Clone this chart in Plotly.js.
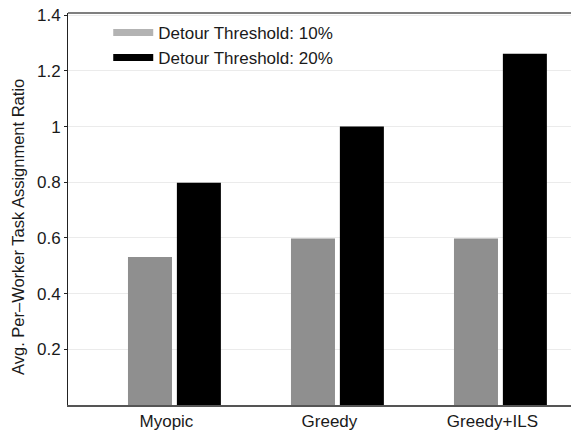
<!DOCTYPE html>
<html>
<head>
<meta charset="utf-8">
<script src="https://cdn.plot.ly/plotly-3.0.1.min.js"></script>
<style>html,body{margin:0;padding:0;background:#fff;}#chart{width:571px;height:430px;}</style>
</head>
<body>
<div id="chart"></div>
<script>
var categories = ["Myopic", "Greedy", "Greedy+ILS"];
var threshold10 = [0.532, 0.598, 0.598];
var threshold20 = [0.798, 1.0, 1.262];
var seriesNames = ["Detour Threshold: 10%", "Detour Threshold: 20%"];
var yTickVals = [0.2, 0.4, 0.6, 0.8, 1.0, 1.2, 1.4];
var yTickText = ["0.2", "0.4", "0.6", "0.8", "1", "1.2", "1.4"];
var yTitle = "Avg. Per–Worker Task Assignment Ratio";

var font = {family: "Liberation Sans, Arial, sans-serif", size: 17, color: "#1a1a1a"};
var titleFont = {family: "Liberation Sans, Arial, sans-serif", size: 16.5, color: "#1a1a1a"};

var traces = [
  {type: "bar", x: categories, y: threshold10, marker: {color: "#8f8f8f"}, showlegend: false, hoverinfo: "y"},
  {type: "bar", x: categories, y: threshold20, marker: {color: "#000000"}, showlegend: false, hoverinfo: "y"},
  {type: "scatter", mode: "lines", x: [null], y: [null], name: seriesNames[0], legendgroup: "a",
   line: {color: "#b3b3b3", width: 7}},
  {type: "scatter", mode: "lines", x: [null], y: [null], name: seriesNames[1], legendgroup: "b",
   line: {color: "#000000", width: 7}}
];

var layout = {
  width: 571, height: 430,
  margin: {l: 68, r: 0, t: 13, b: 25, pad: 0},
  paper_bgcolor: "#fff", plot_bgcolor: "#fff",
  font: font,
  barmode: "group",
  bargap: 0.4,
  bargroupgap: 0.1,
  showlegend: true,
  legend: {x: 0.08, y: 0.995, xanchor: "left", yanchor: "top", bgcolor: "rgba(0,0,0,0)",
           font: font, tracegroupgap: 3, itemwidth: 40, traceorder: "normal"},
  xaxis: {type: "category", range: [-0.653, 2.433], showgrid: false, zeroline: false,
          showline: true, linecolor: "#555", linewidth: 1.5, ticks: "", tickfont: font,
          ticklabelshift: -8, fixedrange: true},
  yaxis: {range: [0, 1.408], tickvals: yTickVals, ticktext: yTickText, showgrid: true, gridcolor: "#ebebeb",
          gridwidth: 1, zeroline: false, showline: true, linecolor: "#222", linewidth: 1,
          ticks: "outside", ticklen: 3, tickwidth: 1, tickcolor: "#222", tickfont: font, automargin: false},
  annotations: [{text: yTitle, xref: "paper", yref: "paper", x: 0, y: 0.5, xanchor: "center", yanchor: "middle",
                 xshift: -50, yshift: -18, textangle: -90, showarrow: false, font: titleFont}],
  shapes: [{type: "line", xref: "paper", yref: "paper", x0: 0, x1: 1, y0: 1, y1: 1,
            line: {color: "#555", width: 1.5}}]
};

Plotly.newPlot("chart", traces, layout, {displayModeBar: false, staticPlot: true});
</script>
</body>
</html>
